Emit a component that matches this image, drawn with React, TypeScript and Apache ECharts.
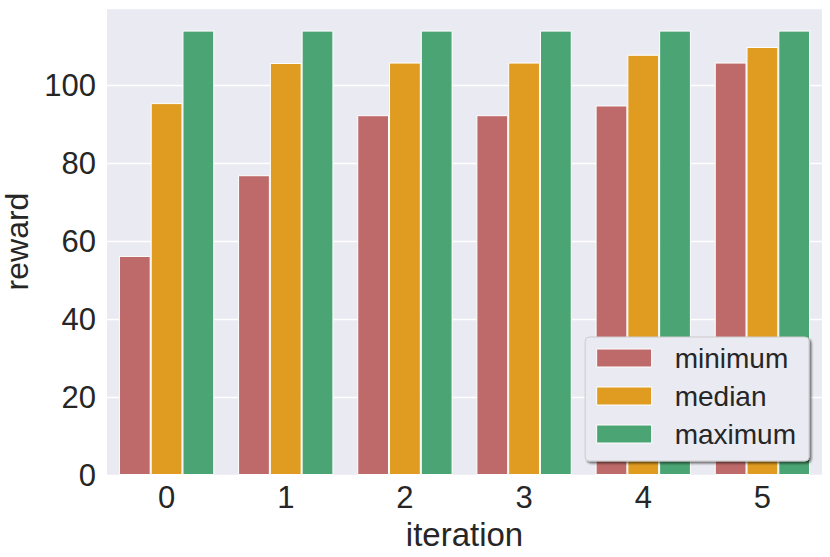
import React, { useEffect, useRef } from "react";
import * as echarts from "echarts";

const categories = ["0", "1", "2", "3", "4", "5"];
const minimumValues = [56.2, 76.9, 92.3, 92.3, 94.8, 105.8];
const medianValues = [95.4, 105.7, 105.8, 105.8, 107.8, 109.8];
const maximumValues = [114.0, 114.0, 114.0, 114.0, 114.0, 114.0];
const seriesNames = ["minimum", "median", "maximum"];
const seriesColors = ["#BF6A6A", "#DF9C20", "#4BA473"];

const FONT = "'Liberation Sans', Arial, Helvetica, sans-serif";
const TEXT = "#262626";

export default function App() {
  const ref = useRef<HTMLDivElement>(null);
  useEffect(() => {
    if (!ref.current) return;
    const chart = echarts.init(ref.current, undefined, { renderer: "svg" });
    const values = [minimumValues, medianValues, maximumValues];
    chart.setOption({
      animation: false,
      backgroundColor: "#ffffff",
      textStyle: { fontFamily: FONT, color: TEXT },
      grid: {
        left: 107,
        right: 8,
        top: 8,
        bottom: 82,
        containLabel: false,
        outerBoundsMode: "none",
        show: true,
        backgroundColor: "#EAEAF2",
        borderWidth: 0,
      },
      legend: {
        orient: "vertical",
        right: 21,
        top: 337,
        data: seriesNames.map((n) => ({ name: n, icon: "rect" })),
        itemWidth: 55,
        itemHeight: 18,
        itemGap: 10,
        padding: [7, 13, 13, 11],
        backgroundColor: "#EAEAF2",
        borderColor: "#CCCCCC",
        borderWidth: 1,
        borderRadius: 4,
        shadowColor: "rgba(0,0,0,0.55)",
        shadowBlur: 2,
        shadowOffsetX: 2,
        shadowOffsetY: 2,
        itemStyle: { borderColor: "#ffffff", borderWidth: 1 },
        textStyle: {
          fontFamily: FONT,
          fontSize: 28,
          color: TEXT,
          padding: [0, 0, 0, 18],
        },
      },
      xAxis: {
        type: "category",
        data: categories,
        name: "iteration",
        nameLocation: "middle",
        nameGap: 40,
        nameTextStyle: { fontFamily: FONT, fontSize: 33, color: TEXT },
        axisLine: { show: false },
        axisTick: { show: false },
        axisLabel: { fontFamily: FONT, fontSize: 31, color: TEXT, margin: 7 },
        splitLine: { show: false },
      },
      yAxis: {
        type: "value",
        min: 0,
        max: 119.8,
        interval: 20,
        name: "reward",
        nameLocation: "middle",
        nameGap: 67,
        nameTextStyle: { fontFamily: FONT, fontSize: 32, color: TEXT },
        axisLine: { show: false },
        axisTick: { show: false },
        axisLabel: {
          fontFamily: FONT,
          fontSize: 31,
          color: TEXT,
          margin: 11,
          showMaxLabel: false,
        },
        splitLine: { show: true, lineStyle: { color: "#ffffff", width: 1.3 } },
      },
      series: seriesNames.map((name, i) => ({
        name,
        type: "bar",
        data: values[i],
        barGap: "0%",
        barCategoryGap: "20%",
        itemStyle: {
          color: seriesColors[i],
          borderColor: "#ffffff",
          borderWidth: 1,
        },
      })),
    });
    return () => chart.dispose();
  }, []);
  return (
    <div
      ref={ref}
      style={{ position: "fixed", left: 0, top: 0, width: 830, height: 557 }}
    />
  );
}
